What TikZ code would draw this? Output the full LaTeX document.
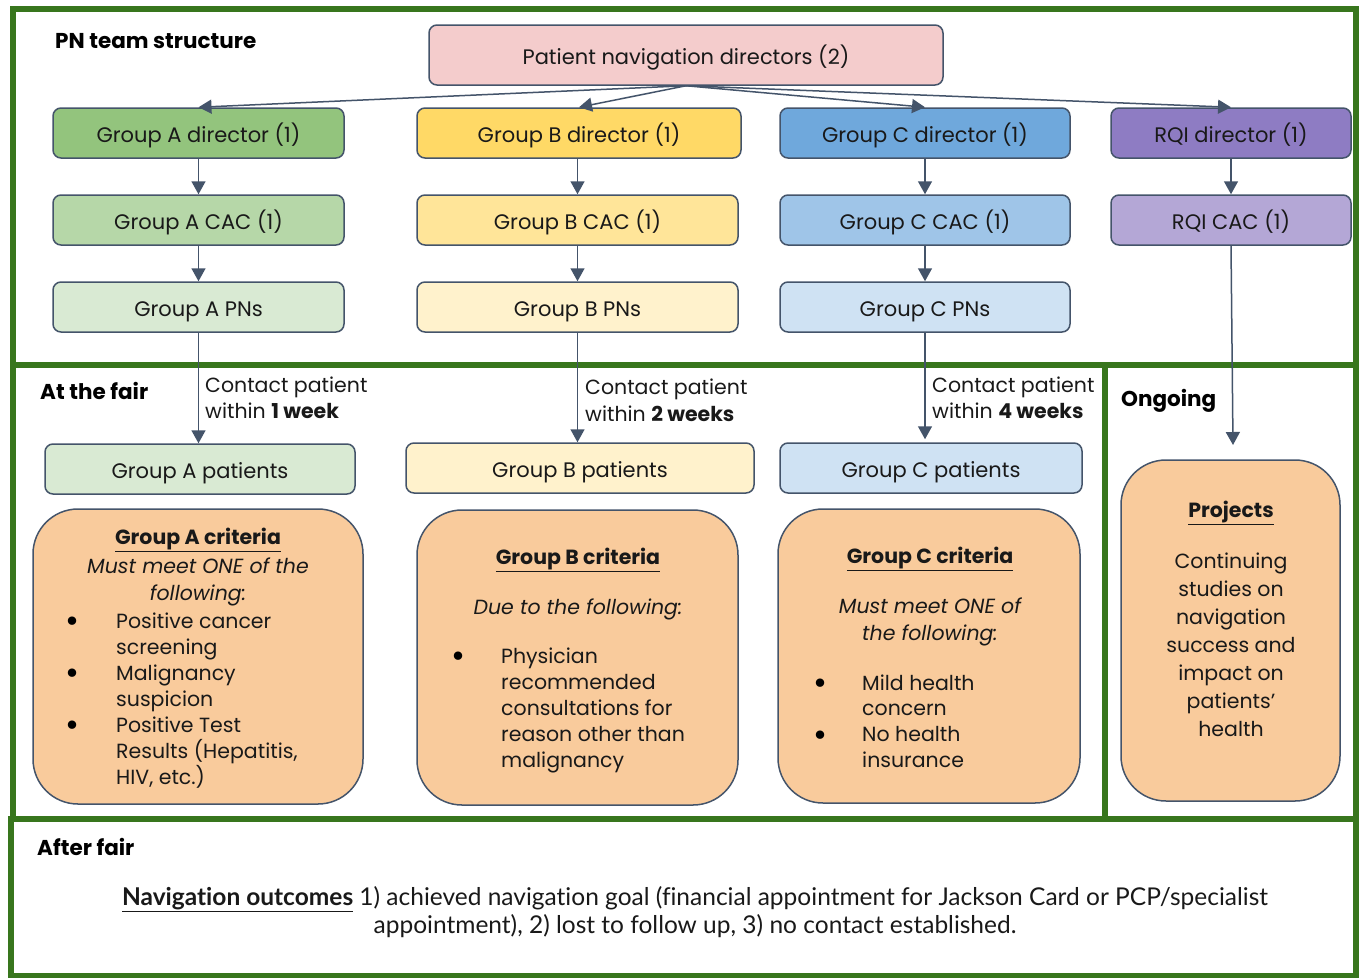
\documentclass[tikz,border=0pt]{standalone}
\usepackage{fontspec}
\setmainfont{Poppins}
\newfontfamily\latofont[Ligatures=NoCommon]{Lato}
\usetikzlibrary{arrows.meta}
\definecolor{framec}{HTML}{38761D}
\definecolor{edgec}{HTML}{44546A}
\definecolor{pndc}{HTML}{F4CCCC}
\definecolor{gadc}{HTML}{93C47D}
\definecolor{gacc}{HTML}{B6D7A8}
\definecolor{gapc}{HTML}{D9EAD3}
\definecolor{gbdc}{HTML}{FFD966}
\definecolor{gbcc}{HTML}{FFE599}
\definecolor{gbpc}{HTML}{FFF2CC}
\definecolor{gcdc}{HTML}{6FA8DC}
\definecolor{gccc}{HTML}{9FC5E8}
\definecolor{gcpc}{HTML}{CFE2F3}
\definecolor{rqdc}{HTML}{8E7CC3}
\definecolor{rqcc}{HTML}{B4A7D6}
\definecolor{critc}{HTML}{F9CB9C}
\newcommand{\fs}{\fontsize{20.5}{24}\selectfont}
\newcommand{\fb}{\fontsize{21}{24}\selectfont}
\newcommand{\fbul}{\fontsize{34}{34}\selectfont}
\begin{document}
\begin{tikzpicture}[x=1pt,y=-1pt,
  frame/.style={draw=framec, line width=6pt},
  box/.style={draw=edgec, line width=1.5pt, rounded corners=8pt, minimum height=50pt, inner sep=0pt, text height=21pt, text depth=3pt, font=\fb, text=black!90},
  crit/.style={draw=edgec, line width=1.5pt, rounded corners=45pt, fill=critc, inner sep=0pt},
  arr/.style={draw=edgec, line width=1.5pt, -{Triangle[length=13pt,width=14pt]}},
  lw/.style={inner sep=0pt, anchor=base west, font=\fs, text=black!90},
  lc/.style={inner sep=0pt, anchor=base, font=\fs, text=black!90},
  bul/.style={inner sep=0pt, anchor=base, font=\fbul, text=black},
  ttl/.style={inner sep=0pt, anchor=base west, font=\fontsize{21.5}{24}\selectfont\bfseries}
]
\useasboundingbox (0,0) rectangle (1359,977);
\fill[white] (0,0) rectangle (1359,977);
% frames
\draw[frame] (13,9) rectangle (1356,365);
\draw[frame] (13,365) rectangle (1105,819);
\draw[frame] (1105,365) rectangle (1356,819);
\draw[frame] (11,819) rectangle (1356,976);

% section titles
\node[ttl] (t1) at (55,48) {PN team structure};
\node[ttl] (t2) at (40,399) {At the fair};
\node[ttl] (t3) at (1121,406) {Ongoing};
\node[ttl] (t4) at (37,855) {After fair};

% boxes
\node[box, fill=pndc, minimum width=514pt, minimum height=60pt] (pnd) at (686,55) {Patient navigation directors (2)};
\node[box, fill=gadc, minimum width=291pt] (gad) at (198.5,133) {Group A director (1)};
\node[box, fill=gbdc, minimum width=324pt] (gbd) at (579,133) {Group B director (1)};
\node[box, fill=gcdc, minimum width=290pt] (gcd) at (925,133) {Group C director (1)};
\node[box, fill=rqdc, minimum width=240pt] (rqd) at (1231,133) {RQI director (1)};
\node[box, fill=gacc, minimum width=291pt] (gac) at (198.5,220) {Group A CAC (1)};
\node[box, fill=gbcc, minimum width=321pt] (gbc) at (577.5,220) {Group B CAC (1)};
\node[box, fill=gccc, minimum width=290pt] (gcc) at (925,220) {Group C CAC (1)};
\node[box, fill=rqcc, minimum width=240pt] (rqc) at (1231,220) {RQI CAC (1)};
\node[box, fill=gapc, minimum width=291pt] (gap) at (198.5,307) {Group A PNs};
\node[box, fill=gbpc, minimum width=321pt] (gbp) at (577.5,307) {Group B PNs};
\node[box, fill=gcpc, minimum width=290pt] (gcp) at (925,307) {Group C PNs};
\node[box, fill=gapc, minimum width=310pt] (gapt) at (200,469) {Group A patients};
\node[box, fill=gbpc, minimum width=348pt] (gbpt) at (580,468) {Group B patients};
\node[box, fill=gcpc, minimum width=302pt] (gcpt) at (931,468) {Group C patients};
\coordinate (ongend) at (1233,445);

% arrows
\draw[arr] (pnd.south) -- (gad.north);
\draw[arr] (pnd.south) -- (gbd.north);
\draw[arr] (pnd.south) -- (gcd.north);
\draw[arr] (pnd.south) -- (rqd.north);
\draw[arr] (gad.south) -- (gac.north);
\draw[arr] (gbd.south -| gbc.north) -- (gbc.north);
\draw[arr] (gcd.south) -- (gcc.north);
\draw[arr] (rqd.south) -- (rqc.north);
\draw[arr] (gac.south) -- (gap.north);
\draw[arr] (gbc.south) -- (gbp.north);
\draw[arr] (gcc.south) -- (gcp.north);
\draw[arr] (gap.south) -- (gapt.north -| gap.south);
\draw[arr] (gbp.south) -- (gbpt.north -| gbp.south);
\draw[arr] (gcp.south) -- ([yshift=3pt]gcpt.north -| gcp.south);
\draw[arr] (rqc.south) -- (ongend);

% contact labels
\node[lw] (ca1) at (205,392) {Contact patient};
\node[lw] (ca2) at (205,418) {within \textbf{1 week}};
\node[lw] (cb1) at (585,394) {Contact patient};
\node[lw] (cb2) at (585,421) {within \textbf{2 weeks}};
\node[lw] (cc1) at (932,392) {Contact patient};
\node[lw] (cc2) at (932,418) {within \textbf{4 weeks}};

% criteria boxes
\node[crit, minimum width=330pt, minimum height=295pt] (cra) at (198,656.5) {};
\node[crit, minimum width=321pt, minimum height=295pt] (crb) at (577.5,657.5) {};
\node[crit, minimum width=302pt, minimum height=294pt] (crc) at (929,656) {};
\node[crit, minimum width=219pt, minimum height=341pt] (prj) at (1230.5,630.5) {};

% Group A criteria text
\node[lc, font=\fs\bfseries] (crat) at (198,544) {\underline{Group A criteria}};
\node[lc, font=\fs\itshape] (crai1) at (198,573) {Must meet ONE of the};
\node[lc, font=\fs\itshape] (crai2) at (198,600) {following:};
\foreach \yy [count=\i] in {628,680,732} \node[bul] (crab\i) at (73,\yy+4) {•};
\foreach \t [count=\i from 0] in {Positive cancer,screening,Malignancy,suspicion,Positive Test,{Results (Hepatitis,},{HIV, etc.)}}
  \node[lw] (cral\i) at (116,628+26*\i) {\t};

% Group B criteria text
\node[lc, font=\fs\bfseries] (crbt) at (578,564) {\underline{Group B criteria}};
\node[lc, font=\fs\itshape] (crbi1) at (578,614) {Due to the following:};
\node[bul] (crbb1) at (458,667) {•};
\foreach \t [count=\i from 0] in {Physician,recommended,consultations for,reason other than,malignancy}
  \node[lw] (crbl\i) at (501,663+26*\i) {\t};

% Group C criteria text
\node[lc, font=\fs\bfseries] (crct) at (930,563) {\underline{Group C criteria}};
\node[lc, font=\fs\itshape] (crci1) at (930,613) {Must meet ONE of};
\node[lc, font=\fs\itshape] (crci2) at (930,640) {the following:};
\foreach \yy [count=\i] in {690,742} \node[bul] (crcb\i) at (820,\yy+4) {•};
\foreach \t [count=\i from 0] in {Mild health,concern,No health,insurance}
  \node[lw] (crcl\i) at (862,690+25.7*\i) {\t};

% Projects
\node[lc, font=\fs\bfseries] (prjt) at (1231,517) {\underline{Projects}};
\foreach \t [count=\i from 0] in {Continuing,studies on,navigation,success and,impact on,patients’,health}
  \node[lc] (prjl\i) at (1231,568+28*\i) {\t};

% bottom text
\node[lc, font=\latofont\fontsize{24.5}{28}\selectfont] (nav1) at (695,905) {\textbf{\underline{Navigation outcomes}} 1) achieved navigation goal (financial appointment for Jackson Card or PCP/specialist};
\node[lc, font=\latofont\fontsize{24.5}{28}\selectfont] (nav2) at (695,933) {appointment), 2) lost to follow up, 3) no contact established.};
\end{tikzpicture}
\end{document}
